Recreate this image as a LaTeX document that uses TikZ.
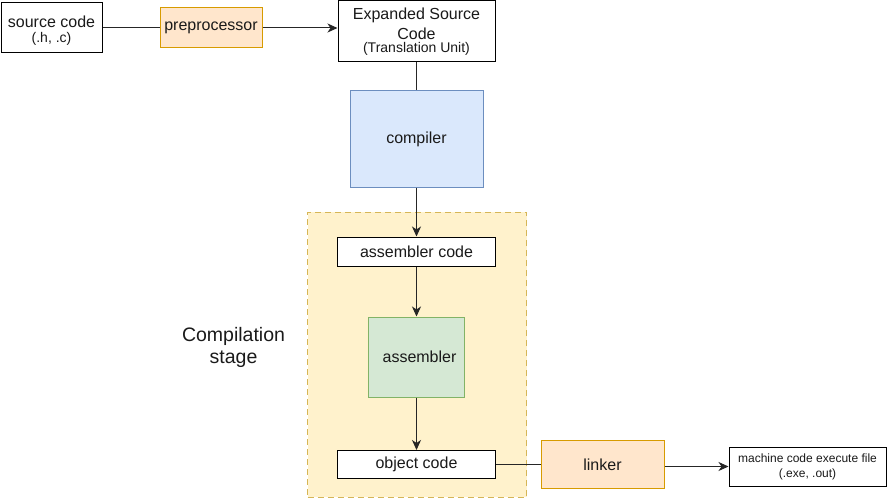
\documentclass[tikz,border=0pt]{standalone}
\usepackage{fontspec}
\setmainfont{Liberation Sans}
\usetikzlibrary{arrows.meta}
\definecolor{txt}{HTML}{1A1A1A}
\definecolor{peachF}{HTML}{FFE6CC}
\definecolor{peachD}{HTML}{D79B00}
\definecolor{blueF}{HTML}{DAE8FC}
\definecolor{blueD}{HTML}{6C8EBF}
\definecolor{greenF}{HTML}{D5E8D4}
\definecolor{greenD}{HTML}{82B366}
\definecolor{yelF}{HTML}{FFF2CC}
\definecolor{yelD}{HTML}{D6B656}
\tikzset{
  box/.style={draw=black, fill=white, line width=1pt, inner sep=0pt, text=txt},
  peach/.style={box, fill=peachF, draw=peachD},
  bluebox/.style={box, fill=blueF, draw=blueD},
  greenbox/.style={box, fill=greenF, draw=greenD},
  lbl/.style={inner sep=0pt, text=txt, anchor=base},
  big/.style={font=\fontsize{16}{19}\selectfont},
  small/.style={font=\fontsize{14}{16}\selectfont},
  tiny/.style={font=\fontsize{12}{14}\selectfont},
  conn/.style={line width=1pt, draw=black!85},
  arr/.style={conn, -{Stealth[length=10pt,width=9pt,inset=3pt]}},
}
\begin{document}
\begin{tikzpicture}[x=1pt,y=-1pt]
\useasboundingbox (0,0) rectangle (888,500);
% container
\node[draw=yelD, fill=yelF, dashed, dash pattern=on 6pt off 4pt, line width=1pt, minimum width=219pt, minimum height=285pt, inner sep=0pt] (stage) at (417,354.5) {};
\node[lbl, font=\fontsize{19.5}{22}\selectfont] (st1) at (233.5,341) {Compilation};
\node[lbl, font=\fontsize{19.5}{22}\selectfont] (st2) at (233.5,363) {stage};
% top row
\node[box, minimum width=101pt, minimum height=50pt] (src) at (51.5,28) {};
\node[lbl, big] (srct1) at (src.center |- 0,27.5) {source code};
\node[lbl, small] (srct2) at (src.center |- 0,43) {(.h, .c)};
\node[peach, big, minimum width=102pt, minimum height=40pt] (pre) at (211,28) {preprocessor};
\node[box, minimum width=157pt, minimum height=61pt] (exp) at (416.5,31.5) {};
\node[lbl, big] (expt1) at (exp.center |- 0,20) {Expanded Source};
\node[lbl, big] (expt2) at (exp.center |- 0,39.5) {Code};
\node[lbl, small] (expt3) at (exp.center |- 0,53) {(Translation Unit)};
% compiler
\node[bluebox, big, minimum width=133pt, minimum height=96pt] (comp) at (416.5,139) {compiler};
% inside stage
\node[box, big, minimum width=158pt, minimum height=29pt] (asmc) at (416.5,251.5) {assembler code};
\node[greenbox, big, minimum width=96pt, minimum height=80pt] (asm) at (416.5,357) {\hspace*{6pt}assembler};
\node[box, big, minimum width=158pt, minimum height=28pt] (obj) at (416.5,464.5) {object code};
% bottom right
\node[peach, big, minimum width=123pt, minimum height=48pt] (lnk) at (602.5,464.5) {linker};
\node[box, minimum width=157pt, minimum height=39pt] (mach) at (807.5,466.5) {};
\node[lbl, tiny] (macht1) at (mach.center |- 0,462.5) {machine code execute file};
\node[lbl, tiny] (macht2) at (mach.center |- 0,477.5) {(.exe, .out)};
% connectors
\draw[conn] (src.east) -- (pre.west);
\draw[arr] (pre.east) -- (pre.east -| exp.west);
\draw[conn] (exp.south) -- (comp.north);
\draw[arr] (comp.south) -- (asmc.north);
\draw[arr] (asmc.south) -- (asm.north);
\draw[arr] (asm.south) -- (obj.north);
\draw[conn] (obj.east) -- (lnk.west);
\draw[arr] (mach.west -| lnk.east) -- (mach.west);
\end{tikzpicture}
\end{document}
